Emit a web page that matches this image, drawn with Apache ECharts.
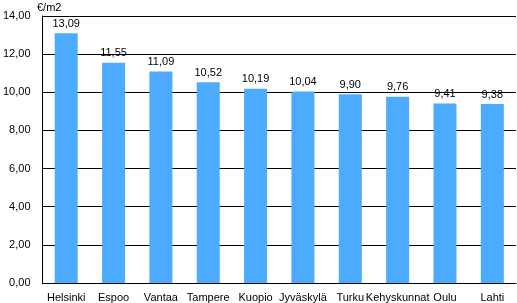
<!DOCTYPE html>
<html><head><meta charset="utf-8">
<script src="https://cdn.jsdelivr.net/npm/echarts@6/dist/echarts.min.js"></script>
<style>html,body{margin:0;padding:0;background:#fff}#c{width:517px;height:303px}</style>
</head><body><div id="c"></div>
<script>
const categories = ["Helsinki","Espoo","Vantaa","Tampere","Kuopio","Jyväskylä","Turku","Kehyskunnat","Oulu","Lahti"];
const values = [13.09,11.55,11.09,10.52,10.19,10.04,9.90,9.76,9.41,9.38];
const unitLabel = "€/m2";
const fmt = v => v.toFixed(2).replace('.', ',');
const chart = echarts.init(document.getElementById('c'), null, {renderer:'canvas'});
chart.setOption({
  animation:false,
  textStyle:{fontFamily:'Liberation Sans, Arial, sans-serif'},
  grid:{left:37,right:1,top:16,bottom:19,containLabel:false},
  graphic:[{type:'text',left:37,top:2,style:{text:unitLabel,fill:'#000',font:'11px "Liberation Sans", Arial, sans-serif'}}],
  xAxis:{type:'category',data:categories,
    axisLine:{lineStyle:{color:'#000',width:1}},axisTick:{show:false},
    axisLabel:{color:'#000',fontSize:11,margin:9,interval:0}},
  yAxis:{type:'value',min:0,max:14,interval:2,
    axisLine:{show:true,lineStyle:{color:'#000',width:1}},axisTick:{show:false},
    axisLabel:{color:'#000',fontSize:11,margin:12,formatter:v=>fmt(v)},
    splitLine:{lineStyle:{color:'#000',width:1}}},
  series:[{type:'bar',data:values,barWidth:23,
    itemStyle:{color:'#4DABFF'},
    label:{show:true,position:'top',color:'#000',fontSize:11,distance:4,formatter:p=>fmt(p.value)}}]
});
</script></body></html>
